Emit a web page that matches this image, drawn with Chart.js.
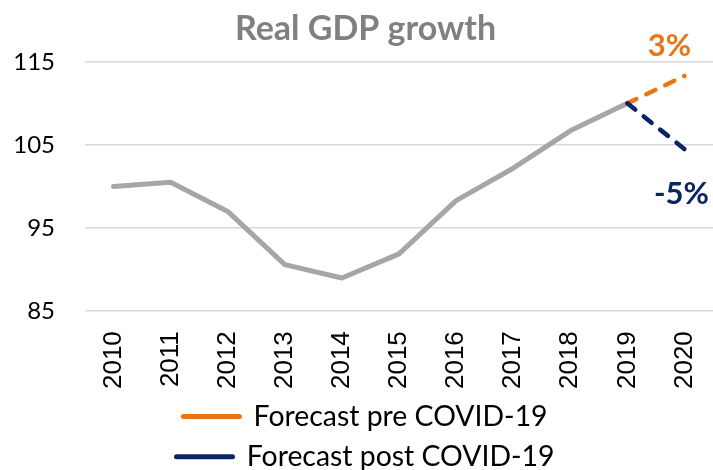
<!DOCTYPE html>
<html>
<head>
<meta charset="utf-8">
<script src="https://cdn.jsdelivr.net/npm/chart.js@4/dist/chart.umd.min.js"></script>
<style>
  html, body { margin: 0; padding: 0; background: #ffffff; }
  #wrap { width: 713px; height: 470px; }
</style>
</head>
<body>
<div id="wrap"><canvas id="c" width="713" height="470"></canvas></div>
<script>
// ---- data ----
const years = ['2010','2011','2012','2013','2014','2015','2016','2017','2018','2019','2020'];
const actualGDP = [100.0, 100.5, 97.0, 90.6, 89.0, 91.9, 98.3, 102.2, 106.7, 110.0, null];
const forecastPre = [null, null, null, null, null, null, null, null, null, 110.0, 113.3];
const forecastPost = [null, null, null, null, null, null, null, null, null, 110.0, 104.5];
const seriesNames = ['Forecast pre COVID-19', 'Forecast post COVID-19', 'Real GDP'];
const changeLabels = ['3%', '-5%'];
const yTicks = [85, 95, 105, 115];

const ORANGE = '#e97614';
const NAVY = '#0b2465';
const GRAY = '#a6a6a6';
const CAL = 'Lato, "Open Sans", sans-serif';

const annotationPlugin = {
  id: 'changeLabels',
  afterDatasetsDraw(chart) {
    const {ctx, scales} = chart;
    const x = scales.x.getPixelForValue(years.length - 1);
    ctx.save();
    ctx.font = 'bold 31px ' + CAL;
    ctx.textAlign = 'center';
    ctx.textBaseline = 'middle';
    ctx.fillStyle = ORANGE;
    ctx.fillText(changeLabels[0], x - 15, scales.y.getPixelForValue(forecastPre[10]) - 30);
    ctx.fillStyle = NAVY;
    ctx.fillText(changeLabels[1], x - 3, scales.y.getPixelForValue(forecastPost[10]) + 45);
    ctx.restore();
  }
};

new Chart(document.getElementById('c'), {
  type: 'line',
  data: {
    labels: years,
    datasets: [
      { label: seriesNames[0], data: forecastPre, borderColor: ORANGE, backgroundColor: ORANGE,
        borderWidth: 4.5, borderDash: [10, 11], borderCapStyle: 'round', pointRadius: 0, order: 2 },
      { label: seriesNames[1], data: forecastPost, borderColor: NAVY, backgroundColor: NAVY,
        borderWidth: 4.5, borderDash: [10, 11], borderCapStyle: 'round', pointRadius: 0, order: 1 },
      { label: seriesNames[2], data: actualGDP, borderColor: GRAY, backgroundColor: GRAY,
        borderWidth: 5, borderCapStyle: 'round', borderJoinStyle: 'round', pointRadius: 0, order: 3 }
    ]
  },
  options: {
    responsive: false,
    animation: false,
    devicePixelRatio: 1,
    layout: { padding: { left: 13, right: -5, top: 0, bottom: -11 } },
    plugins: {
      title: {
        display: true, text: 'Real GDP growth', color: '#808080',
        font: { family: CAL, size: 34, weight: 'bold' },
        padding: { top: 9, bottom: 12 }
      },
      legend: {
        position: 'bottom',
        labels: {
          color: '#000000',
          font: { family: CAL, size: 28.4 },
          usePointStyle: true, pointStyle: 'line', pointStyleWidth: 56,
          boxHeight: 5, padding: 12,
          filter: (item) => item.datasetIndex !== 2,
          sort: (a, b) => a.datasetIndex - b.datasetIndex,
          generateLabels(chart) {
            const items = Chart.defaults.plugins.legend.labels.generateLabels(chart);
            items.forEach(it => { it.lineDash = []; it.lineWidth = 5; it.lineCap = 'round'; });
            return items;
          }
        }
      },
      tooltip: { enabled: false }
    },
    scales: {
      x: {
        offset: true,
        grid: { display: false, drawTicks: false },
        border: { display: false },
        afterFit(scale) { scale.paddingLeft = 0; scale.paddingRight = 0; scale.height = 79; },
        ticks: {
          color: '#000000', maxRotation: 90, minRotation: 90, padding: 20,
          font: { family: '"Liberation Sans", Arial, sans-serif', size: 26 }
        }
      },
      y: {
        min: 85, max: 115,
        afterBuildTicks(scale) { scale.ticks = yTicks.map(v => ({ value: v })); },
        afterFit(scale) { scale.width = 72; },
        grid: { color: '#d9d9d9', lineWidth: 1.5, drawTicks: false },
        border: { display: false },
        ticks: { color: '#000000', padding: 30, font: { family: CAL, size: 24 } }
      }
    }
  },
  plugins: [annotationPlugin]
});
</script>
</body>
</html>
